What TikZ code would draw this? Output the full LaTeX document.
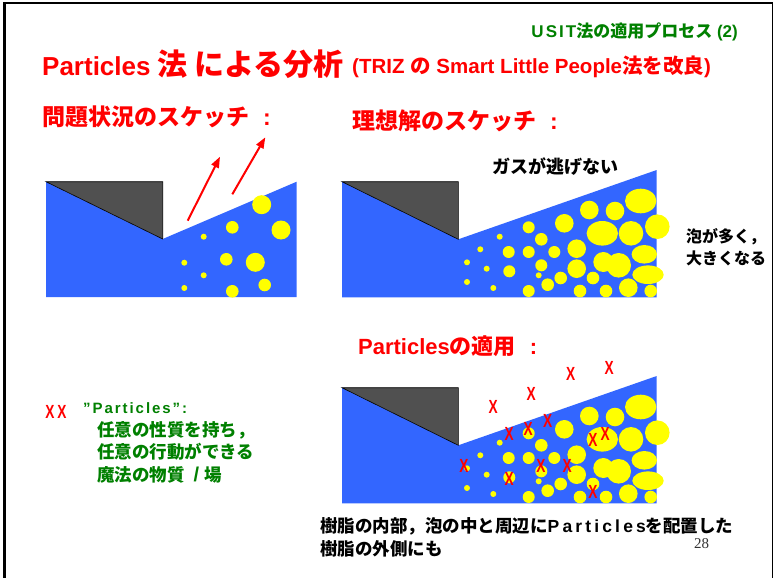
\documentclass[tikz,border=0pt]{standalone}
\usepackage{graphicx}
\usepackage{fontspec}
\setmainfont{Liberation Sans}
\newfontfamily\jpfont{Noto Sans CJK JP}
\newfontfamily\numfont{Liberation Serif}
\usetikzlibrary{arrows.meta}

\newcommand\J[1]{{\jpfont\bfseries #1}}
\newcommand\fsz[1]{\fontsize{#1}{#1}\selectfont}
\newcommand\spaced[2]{{\addfontfeature{LetterSpace=#1}#2}}
\newcommand\narrowX{\scalebox{0.72}[1]{X}}
\newcommand\headcolon{\hspace{14pt}{\bfseries :}}

\definecolor{resinblue}{RGB}{51,102,255}
\definecolor{moldgray}{RGB}{80,80,80}
\definecolor{gasyellow}{RGB}{255,255,0}
\definecolor{slidegreen}{RGB}{0,128,0}

% gas bubbles of the ideal resin panel, (x / y / x radius / y radius)
\newcommand\bubblegrid{%
  \foreach \bx/\by/\ba/\bb in {
    640.7/201/15.7/12.3, 589.3/210/9.3/9.3, 615/211/9.3/9.3,
    657.3/226.7/12.3/12.3, 564.3/223.3/9.3/9.3, 528.7/227.3/6/6,
    602.3/233.3/15.7/12.3, 631/233.3/12.3/12.3, 499.7/236.7/3/3,
    541.3/239.3/6.3/6.3, 576.7/248.7/9.3/9.3, 644.3/254.3/12.7/9.3,
    480.3/249.3/3/3, 508.7/252/6/6, 528.7/252/6/6, 554.3/252/6/6,
    603.3/262/10/10, 618.7/265.3/12.3/12.3, 467/262.3/3/3,
    541.3/265.3/6/6, 576.7/268.7/9.3/9.3, 486.7/268.7/3/3,
    509.3/271.3/6/6, 648/274.7/15.7/9.3, 538.7/275.3/3/3,
    560.7/278/6.3/6.3, 593/278/6.3/6.3, 467/282/3/3,
    547.7/284.7/6.3/6.3, 493.3/288/3/3, 528.7/291/6/6,
    580/291/6.3/6.3, 606/291/6.3/6.3, 628.3/287.7/9.3/9.3,
    650.7/291/6.3/6.3}
  {\fill[gasyellow] (\bx,\by) ellipse [x radius=\ba pt, y radius=\bb pt];}%
}

\tikzset{
  txt/.style={inner sep=0pt, anchor=base west},
  redhead/.style={txt, text=red},
  greentxt/.style={txt, text=slidegreen},
  blacktxt/.style={txt, text=black},
  mold/.style={fill=moldgray, draw=black, line width=0.6pt},
  resin/.style={fill=resinblue},
  gasarrow/.style={draw=red, line width=2pt, -{Triangle[length=11pt,width=8pt]}},
  xmark/.style={inner sep=0pt, text=red, font=\fsz{19}\bfseries},
}

\begin{document}
\begin{tikzpicture}[x=1pt, y=-1pt]
\useasboundingbox[fill=white] (0,0) rectangle (774,578);

% slide frame
\draw[line width=3pt] (4.5,578) -- (4.5,3.5);
\draw[line width=2pt] (3,3.5) -- (772.5,3.5);
\draw[line width=1.5pt] (772.5,2.5) -- (772.5,578);

% headings
\node[greentxt, anchor=base east, font=\fsz{17}\bfseries] (proc) at (738,38)
  {\spaced{12}{USIT}\J{法の適用プロセス} (2)};
\node[redhead, font=\fsz{26}\bfseries] (title) at (42,75)
  {Particles {\fsz{30}\J{法 による分析}}};
\node[redhead, font=\fsz{20.5}\bfseries] (subtitle) at (352,74)
  {(TRIZ \J{の} Smart Little People\J{法を改良})};
\node[redhead, font=\fsz{23}] (hprob) at (42,125) {\J{問題状況のスケッチ}\headcolon};
\node[redhead, font=\fsz{23}] (hideal) at (352,129) {\J{理想解のスケッチ}\headcolon};
\node[redhead, font=\fsz{22}\bfseries] (happly) at (358,354) {Particles\J{の適用}\headcolon};

% panel 1: problem situation
\fill[resin] (46,181.7) -- (162.7,239) -- (296.7,181.7) -- (296.7,297) -- (46,297) -- cycle;
\draw[mold] (46,181.7) -- (162.7,181.7) -- (162.7,239) -- cycle;
\foreach \bx/\by/\br in {
  261.7/204.7/9.5, 281/230/9.5, 232.3/227.3/6.3, 203.7/236.7/3,
  184.3/262.7/3, 226.3/259.3/6.3, 255.3/262.3/9.5, 203.7/275.3/3,
  184.3/288/3, 232.3/291.3/6.3, 264.7/285/6.3}
  {\fill[gasyellow] (\bx,\by) circle [radius=\br pt];}
\coordinate (gasA) at (187.7,220.7);
\coordinate (gasAout) at (220,156.7);
\coordinate (gasB) at (232.3,194.3);
\coordinate (gasBout) at (265.3,137.3);
\draw[gasarrow] (gasA) -- (gasAout);
\draw[gasarrow] (gasB) -- (gasBout);

% panel 2: ideal solution
\fill[resin] (342,181.7) -- (458.3,239.3) -- (656.7,170) -- (656.7,297.3) -- (342,297.3) -- cycle;
\draw[mold] (342,181.7) -- (458.3,181.7) -- (458.3,239.3) -- cycle;
\bubblegrid
\node[blacktxt, font=\fsz{18}] (noescape) at (492,173) {\J{ガスが逃げない}};
\node[blacktxt, font=\fsz{16}] (more1) at (686,242) {\J{泡が多く，}};
\node[blacktxt, font=\fsz{16}] (more2) at (686,264) {\J{大きくなる}};

% panel 3: particles applied
\begin{scope}[yshift=-206pt]
\fill[resin] (342,181.7) -- (458.3,239.3) -- (656.7,170) -- (656.7,297.3) -- (342,297.3) -- cycle;
\draw[mold] (342,181.7) -- (458.3,181.7) -- (458.3,239.3) -- cycle;
\bubblegrid
\end{scope}
\foreach \mx/\my [count=\k] in {
  493.3/407.3, 531.3/394, 570.7/374.3, 609.3/368.3,
  509.3/434, 528.3/428.7, 547.7/421, 593/440.3, 605.3/434,
  464/466, 541/466, 567.3/466, 509.3/478.7, 593/491.7}
  {\node[xmark] (p\k) at (\mx,\my) {\narrowX};}

% legend
\node[xmark, anchor=center] (leg1) at (50,412) {\narrowX};
\node[xmark, anchor=center] (leg2) at (62,412) {\narrowX};
\node[greentxt, font=\fsz{15}\bfseries] (legname) at (83,413) {\spaced{13}{”Particles”:}};
\node[greentxt, font=\fsz{17.5}] (leg3) at (97,436.5) {\J{任意の性質を持ち，}};
\node[greentxt, font=\fsz{17.5}] (leg4) at (97,458.5) {\J{任意の行動ができる}};
\node[greentxt, font=\fsz{17.5}] (leg5) at (97,481.5)
  {\J{魔法の物質}\hspace{9pt}{\bfseries\fsz{20}/}\hspace{5pt}\J{場}};

% footer notes
\node[blacktxt, font=\fsz{17.5}] (foot1) at (320,532.5)
  {\J{樹脂の内部，泡の中と周辺に}{\bfseries\spaced{18}{Particles}}\J{を配置した}};
\node[blacktxt, font=\fsz{17.5}] (foot2) at (320,555.5) {\J{樹脂の外側にも}};
\node[txt, font=\numfont\fsz{15}, text=black!80] (pageno) at (694,548) {28};
\end{tikzpicture}
\end{document}
